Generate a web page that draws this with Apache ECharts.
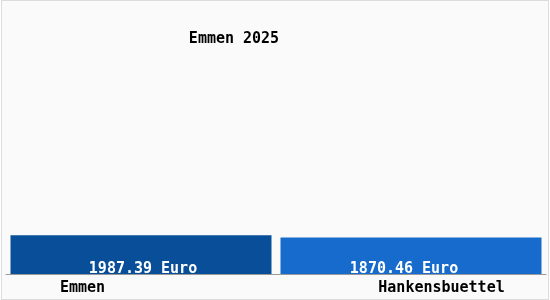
<!DOCTYPE html>
<html><head><meta charset="utf-8">
<script src="https://cdn.jsdelivr.net/npm/echarts@6/dist/echarts.min.js"></script>
<style>
html,body{margin:0;padding:0;background:#fff;}
#c{position:absolute;left:1px;top:0;width:546px;height:298px;border:1px solid #dcdcdc;background:#fafafa;}
</style></head>
<body><div id="c"></div>
<script>
const categories = ["Emmen", "Hankensbuettel"];
const values = [1987.39, 1870.46];
const barColors = ["#084e98", "#176bcc"];
const titleText = "Emmen 2025";
const unit = "Euro";

const chart = echarts.init(document.getElementById('c'));
const font = "'DejaVu Sans Mono', monospace";
const labelShift = [[2, 0], [-7, 0]];
chart.setOption({
  animation: false,
  title: {text: titleText, left: 227, top: 26, textAlign: 'center',
    textStyle: {fontFamily: font, fontSize: 15, fontWeight: 'bold', color: '#000'}},
  grid: {left: 4, right: 2, top: 78, bottom: 25},
  xAxis: {type: 'category', data: categories,
    axisLine: {lineStyle: {color: '#999', width: 1}},
    axisTick: {show: false},
    axisLabel: {interval: 0, fontFamily: font, fontSize: 15, color: '#000', margin: 7,
      formatter: (v, i) => i === 0 ? '{a|' + v + '}' : '{b|' + v + '}',
      rich: {a: {fontFamily: font, fontSize: 15, fontWeight: 'bold', color: '#000', padding: [0, 117, 0, 0]},
             b: {fontFamily: font, fontSize: 15, fontWeight: 'bold', color: '#000', padding: [0, 0, 0, 61]}}}},
  yAxis: {type: 'value', min: 0, max: 10000, show: false, splitLine: {show: false}},
  series: [{type: 'bar', barCategoryGap: 9,
    data: values.map((v, i) => ({value: v, itemStyle: {color: barColors[i]}, label: {offset: labelShift[i]}})),
    label: {show: true, position: 'insideBottom', distance: -3, fontFamily: font, fontSize: 15, fontWeight: 'bold', color: '#fff',
      formatter: p => p.value.toFixed(2) + ' ' + unit}}]
});
</script></body></html>
